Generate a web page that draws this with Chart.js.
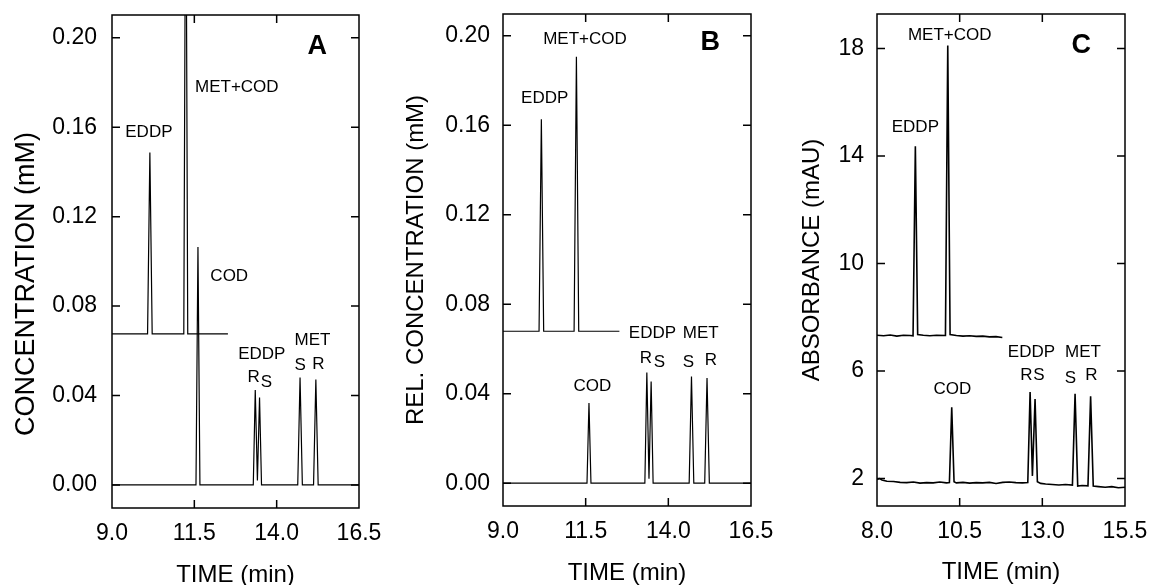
<!DOCTYPE html>
<html>
<head>
<meta charset="utf-8">
<title>EDDP / MET / COD electropherograms</title>
<script src="https://cdn.jsdelivr.net/npm/chart.js@4.4.1/dist/chart.umd.min.js"></script>
<style>
  html, body { margin: 0; padding: 0; background: #fff; }
  #wrap { position: relative; width: 1151px; height: 585px; }
  #wrap canvas { position: absolute; left: 0; top: 0; }
</style>
</head>
<body>
<div id="wrap">
  <canvas id="panelA" width="1151" height="585"></canvas>
  <canvas id="panelB" width="1151" height="585"></canvas>
  <canvas id="panelC" width="1151" height="585"></canvas>
</div>
<script>
/* Three electropherograms (A: simulated, B: relative, C: measured). */

// ---- panel A ----
const aTimeTicks = [9.0, 11.5, 14.0, 16.5];
const aConcTicks = [0.0, 0.04, 0.08, 0.12, 0.16, 0.2];
const aTopTime = [9.0, 10.08, 10.15, 10.22, 11.18, 11.24, 11.3, 12.52];
const aTopConc = [0.0676, 0.0676, 0.1487, 0.0676, 0.0676, 0.3, 0.0676, 0.0676];
const aLowTime = [9.0, 11.55, 11.61, 11.67, 13.29, 13.35, 13.415, 13.48, 13.54, 14.64, 14.71, 14.78, 15.12, 15.19, 15.26, 16.5];
const aLowConc = [0, 0, 0.1064, 0, 0, 0.0425, 0.002, 0.0391, 0, 0, 0.0481, 0, 0, 0.0472, 0, 0];

// ---- panel B ----
const bTimeTicks = [9.0, 11.5, 14.0, 16.5];
const bConcTicks = [0.0, 0.04, 0.08, 0.12, 0.16, 0.2];
const bTopTime = [9.0, 10.09, 10.16, 10.23, 11.15, 11.22, 11.29, 12.52];
const bTopConc = [0.0679, 0.0679, 0.1626, 0.0679, 0.0679, 0.1906, 0.0679, 0.0679];
const bLowTime = [9.0, 11.54, 11.6, 11.66, 13.29, 13.35, 13.415, 13.48, 13.54, 14.63, 14.7, 14.77, 15.1, 15.17, 15.24, 16.5];
const bLowConc = [0, 0, 0.0358, 0, 0, 0.0495, 0.002, 0.0454, 0, 0, 0.0477, 0, 0, 0.047, 0, 0];

// ---- panel C ----
const cTimeTicks = [8.0, 10.5, 13.0, 15.5];
const cAbsTicks = [2, 6, 10, 14, 18];
const cTopTime = [8.0, 8.2, 8.4, 8.6, 8.8, 9.0, 9.09, 9.16, 9.23, 9.4, 9.6, 9.8, 10.07, 10.14, 10.21, 10.4, 10.6, 10.8, 11.0, 11.2, 11.4, 11.6, 11.79];
const cTopAbs = [7.33, 7.31, 7.34, 7.3, 7.33, 7.32, 7.31, 14.36, 7.36, 7.33, 7.31, 7.33, 7.32, 18.11, 7.36, 7.32, 7.3, 7.31, 7.29, 7.3, 7.27, 7.28, 7.25];
const cLowTime = [8.0, 8.08, 8.15, 8.3, 8.5, 8.7, 8.9, 9.1, 9.3, 9.5, 9.7, 9.9, 10.1, 10.19, 10.26, 10.33, 10.4, 10.6, 10.8, 11.0, 11.2, 11.4, 11.6, 11.8, 12.0, 12.2, 12.4, 12.56, 12.63, 12.7, 12.78, 12.85, 12.95, 13.1, 13.3, 13.5, 13.7, 13.91, 13.99, 14.07, 14.2, 14.38, 14.46, 14.54, 14.7, 14.9, 15.1, 15.3, 15.5];
const cLowAbs = [1.97, 2.0, 1.95, 1.9, 1.89, 1.86, 1.85, 1.87, 1.83, 1.85, 1.84, 1.87, 1.84, 1.85, 4.65, 1.88, 1.84, 1.86, 1.83, 1.85, 1.84, 1.86, 1.82, 1.86, 1.87, 1.85, 1.84, 1.85, 5.22, 2.1, 4.96, 1.88, 1.82, 1.8, 1.78, 1.76, 1.78, 1.76, 5.15, 1.72, 1.74, 1.73, 5.06, 1.72, 1.7, 1.68, 1.7, 1.66, 1.68];

// peak labels: [text, time, value]
const aLabels = [
  ["MET+COD", 12.79, 0.178], ["EDDP", 10.12, 0.1579], ["COD", 12.56, 0.0934],
  ["EDDP", 13.55, 0.0585], ["R", 13.3, 0.0482], ["S", 13.69, 0.046],
  ["MET", 15.09, 0.0646], ["S", 14.71, 0.0534], ["R", 15.27, 0.0538],
];
const bLabels = [
  ["MET+COD", 11.48, 0.1983], ["EDDP", 10.26, 0.1721], ["COD", 11.7, 0.0433],
  ["EDDP", 13.52, 0.0669], ["R", 13.32, 0.056], ["S", 13.73, 0.054],
  ["MET", 14.98, 0.0669], ["S", 14.61, 0.054], ["R", 15.29, 0.0548],
];
const cLabels = [
  ["MET+COD", 10.2, 18.49], ["EDDP", 9.16, 15.05], ["COD", 10.28, 5.32],
  ["EDDP", 12.67, 6.68], ["R", 12.52, 5.83], ["S", 12.9, 5.83],
  ["MET", 14.23, 6.68], ["S", 13.85, 5.73], ["R", 14.48, 5.83],
];

const FONT = "'Liberation Sans', Arial, Helvetica, sans-serif";
const TICK = 8;

function pts(xs, ys) {
  return xs.map((x, i) => ({ x, y: ys[i] }));
}

function noEdgePadding(s) {
  s.paddingTop = 0;
  s.paddingBottom = 0;
  s.paddingLeft = 0;
  s.paddingRight = 0;
}

function makeDecor(labels, letter) {
  return {
    id: "decor",
    afterDatasetsDraw(chart) {
      const { ctx, chartArea: a, scales } = chart;
      const x = scales.x;
      const y = scales.y;
      ctx.save();
      ctx.strokeStyle = "#000";
      ctx.lineWidth = 1.5;
      ctx.strokeRect(a.left, a.top, a.right - a.left, a.bottom - a.top);

      ctx.beginPath();
      y.ticks.forEach((t) => {
        const py = y.getPixelForValue(t.value);
        ctx.moveTo(a.left, py);
        ctx.lineTo(a.left + TICK, py);
        ctx.moveTo(a.right, py);
        ctx.lineTo(a.right - TICK, py);
      });
      x.ticks.forEach((t) => {
        const px = x.getPixelForValue(t.value);
        if (px <= a.left + 1 || px >= a.right - 1) return;
        ctx.moveTo(px, a.bottom);
        ctx.lineTo(px, a.bottom - TICK);
        ctx.moveTo(px, a.top);
        ctx.lineTo(px, a.top + TICK);
      });
      ctx.stroke();

      ctx.fillStyle = "#000";
      ctx.textAlign = "center";
      ctx.textBaseline = "middle";
      ctx.font = "17px " + FONT;
      labels.forEach(([txt, t, v]) => {
        ctx.fillText(txt, x.getPixelForValue(t), y.getPixelForValue(v));
      });
      ctx.font = "bold 27px " + FONT;
      ctx.fillText(letter[0], x.getPixelForValue(letter[1]), y.getPixelForValue(letter[2]));
      ctx.restore();
    },
  };
}

function makePanel(id, cfg) {
  const ctx = document.getElementById(id).getContext("2d");
  return new Chart(ctx, {
    type: "line",
    data: {
      datasets: cfg.traces.map((tr) => ({
        data: tr,
        borderColor: "#000",
        borderWidth: cfg.lineWidth,
        pointRadius: 0,
        tension: 0,
        fill: false,
      })),
    },
    options: {
      responsive: false,
      animation: false,
      events: [],
      layout: { padding: cfg.padding },
      plugins: { legend: { display: false }, tooltip: { enabled: false } },
      scales: {
        x: {
          type: "linear",
          min: cfg.xMin,
          max: cfg.xMax,
          afterBuildTicks: (s) => { s.ticks = cfg.xTicks.map((v) => ({ value: v })); },
          afterFit: (s) => { s.height = cfg.xAxisH; noEdgePadding(s); },
          grid: { display: false, drawTicks: false },
          border: { display: false },
          ticks: {
            color: "#000",
            padding: 12,
            maxRotation: 0,
            font: { family: FONT, size: 23 },
            callback: (v) => Number(v).toFixed(1),
          },
          title: {
            display: true,
            text: "TIME (min)",
            color: "#000",
            padding: { top: 0, bottom: cfg.xTitlePad },
            font: { family: FONT, size: 24, lineHeight: 0.8 },
          },
        },
        y: {
          type: "linear",
          min: cfg.yMin,
          max: cfg.yMax,
          afterBuildTicks: (s) => { s.ticks = cfg.yTicks.map((v) => ({ value: v })); },
          afterFit: (s) => { s.width = cfg.yAxisW; noEdgePadding(s); },
          grid: { display: false, drawTicks: false },
          border: { display: false },
          ticks: {
            color: "#000",
            padding: cfg.yTickPad,
            font: { family: FONT, size: 23 },
            callback: cfg.yFmt,
          },
          title: {
            display: true,
            text: cfg.yTitle,
            color: "#000",
            padding: { top: cfg.yTitlePad, bottom: 0 },
            font: { family: FONT, size: cfg.yTitleSize },
          },
        },
      },
    },
    plugins: [makeDecor(cfg.labels, cfg.letter)],
  });
}

document.addEventListener("DOMContentLoaded", () => {
  makePanel("panelA", {
    traces: [pts(aTopTime, aTopConc), pts(aLowTime, aLowConc)],
    lineWidth: 1.2,
    padding: { left: 0, right: 792, top: 15, bottom: 0 },
    xMin: 9.0, xMax: 16.5, xTicks: aTimeTicks, xAxisH: 77, xTitlePad: 0,
    yMin: -0.0103, yMax: 0.2102, yTicks: aConcTicks, yAxisW: 112,
    yTickPad: 15, yTitlePad: 10, yTitleSize: 27,
    yFmt: (v) => Number(v).toFixed(2),
    // trailing spaces nudge the centred, rotated title down like the original
    yTitle: "CONCENTRATION (mM)      ",
    labels: aLabels,
    letter: ["A", 15.23, 0.1963],
  });
  makePanel("panelB", {
    traces: [pts(bTopTime, bTopConc), pts(bLowTime, bLowConc)],
    lineWidth: 1.2,
    padding: { left: 380, right: 400, top: 14, bottom: 0 },
    xMin: 9.0, xMax: 16.5, xTicks: bTimeTicks, xAxisH: 79, xTitlePad: 2,
    yMin: -0.0102, yMax: 0.2097, yTicks: bConcTicks, yAxisW: 123,
    yTickPad: 13, yTitlePad: 22, yTitleSize: 24,
    yFmt: (v) => Number(v).toFixed(2),
    yTitle: "REL. CONCENTRATION (mM)",
    labels: bLabels,
    letter: ["B", 15.27, 0.1971],
  });
  makePanel("panelC", {
    traces: [pts(cTopTime, cTopAbs), pts(cLowTime, cLowAbs)],
    lineWidth: 1.6,
    padding: { left: 760, right: 26, top: 14, bottom: 0 },
    xMin: 8.0, xMax: 15.5, xTicks: cTimeTicks, xAxisH: 79, xTitlePad: 3,
    yMin: 0.98, yMax: 19.28, yTicks: cAbsTicks, yAxisW: 117,
    yTickPad: 13, yTitlePad: 38, yTitleSize: 24,
    yFmt: (v) => String(v),
    yTitle: "ABSORBANCE (mAU)",
    labels: cLabels,
    letter: ["C", 14.18, 18.1],
  });
});
</script>
</body>
</html>
